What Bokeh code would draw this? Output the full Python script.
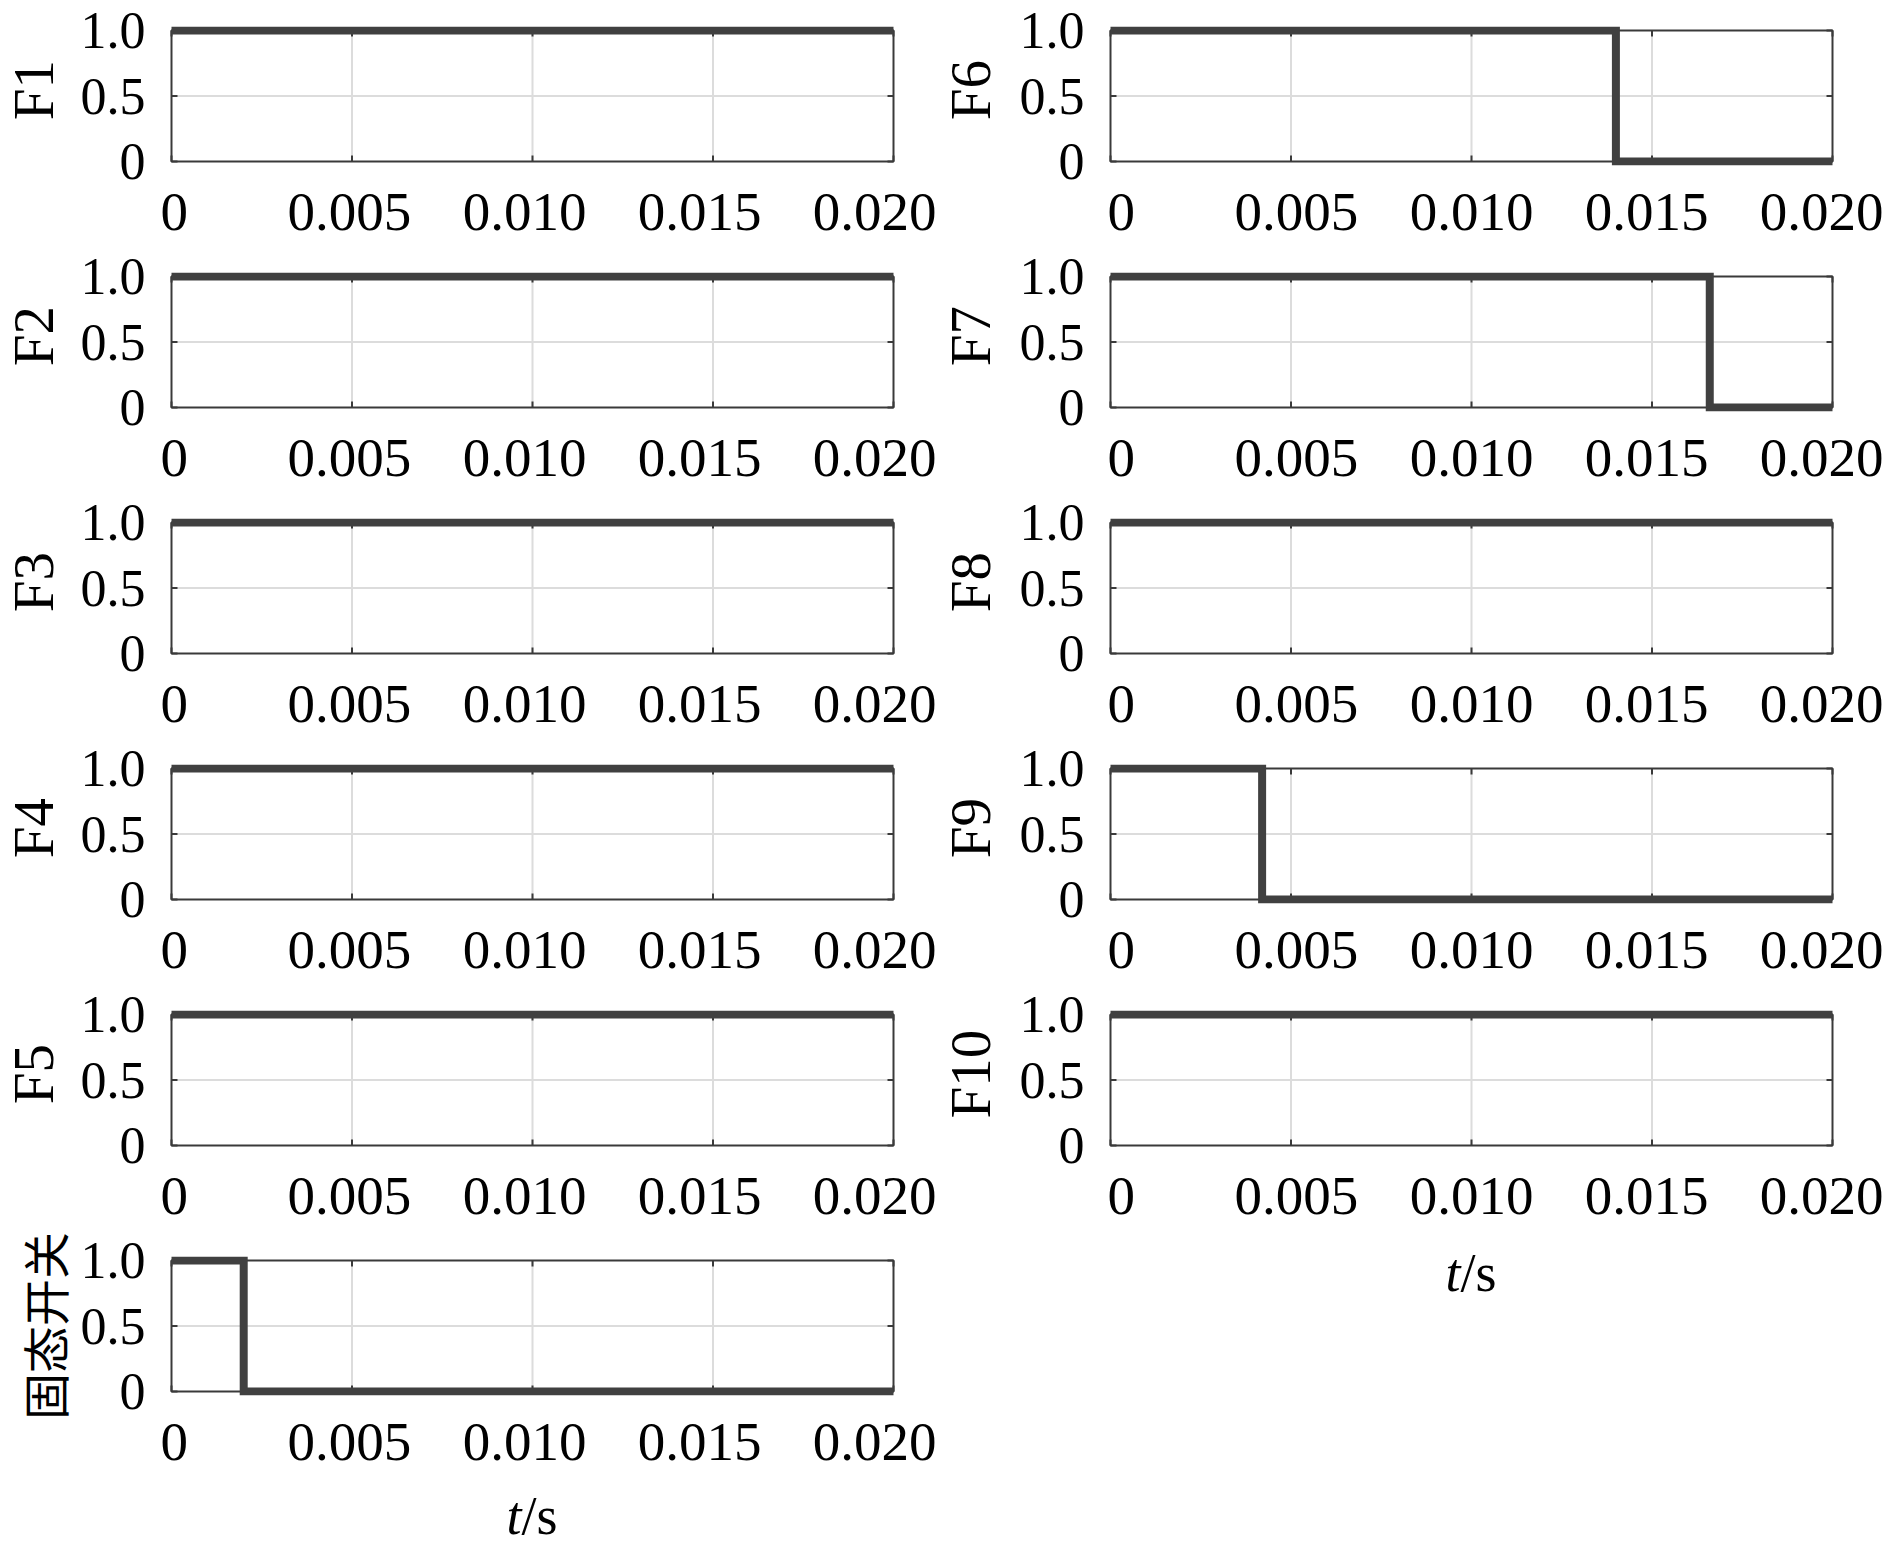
import math
from bokeh.plotting import figure
from bokeh.layouts import column, row
from bokeh.models import Range1d, LinearAxis, FixedTicker
from bokeh.core.properties import value
from bokeh.embed import file_html
from bokeh.resources import INLINE

# ---------------- data ----------------
T_END = 0.020
x_ticks = [0, 0.005, 0.010, 0.015, 0.020]
x_tick_labels = ["0", "0.005", "0.010", "0.015", "0.020"]
y_ticks = [0, 0.5, 1.0]
y_tick_labels = ["0", "0.5", "1.0"]

left_names = ["F1", "F2", "F3", "F4", "F5", "固态开关"]
right_names = ["F6", "F7", "F8", "F9", "F10"]

# switching state traces (time in s, state 1 = on, 0 = off)
F1_t = [0, 0.020];          F1_v = [1, 1]
F2_t = [0, 0.020];          F2_v = [1, 1]
F3_t = [0, 0.020];          F3_v = [1, 1]
F4_t = [0, 0.020];          F4_v = [1, 1]
F5_t = [0, 0.020];          F5_v = [1, 1]
SS_t = [0, 0.0020, 0.020];  SS_v = [1, 0, 0]
F6_t = [0, 0.0140, 0.020];  F6_v = [1, 0, 0]
F7_t = [0, 0.0166, 0.020];  F7_v = [1, 0, 0]
F8_t = [0, 0.020];          F8_v = [1, 1]
F9_t = [0, 0.0042, 0.020];  F9_v = [1, 0, 0]
F10_t = [0, 0.020];         F10_v = [1, 1]

left_data = [(F1_t, F1_v), (F2_t, F2_v), (F3_t, F3_v), (F4_t, F4_v), (F5_t, F5_v), (SS_t, SS_v)]
right_data = [(F6_t, F6_v), (F7_t, F7_v), (F8_t, F8_v), (F9_t, F9_v), (F10_t, F10_v)]
x_label_main = "t"
x_label_unit = "/s"

# ---------------- style ----------------
SERIF = "Liberation Serif"
CJK = "Noto Sans CJK SC"
XTICK_FS = "55px"
YTICK_FS = "52px"
LABEL_FS = "57px"
CJK_FS = "47px"
BOX_W = 722
BOX_H = 131
PAD = 4
TICK_PX = 6
LABEL_SQUEEZE = 0.97   # tick labels sit slightly closer together than the ticks
TITLE_DROP_PX = 17     # correction of the rotated titles' vertical placement
LINE_COLOR = "#404040"
BOX_COLOR = "#3a3a3a"
GRID_COLOR = "#dcdcdc"
ROW_H = 246
BT = 26
FRAME_H = BOX_H + 2 * PAD
BB = ROW_H - BT - FRAME_H
TITLE_W_L = 74
TITLE_W_R = 70

y_over = {t: s for t, s in zip(y_ticks, y_tick_labels)}
DX = T_END * PAD / BOX_W
DY = PAD / BOX_H
X_RANGE = (x_ticks[0] - DX, x_ticks[-1] + DX)


def bare_figure(width, height, x_range, y_range, bl=0, br=0, bt=0, bb=0):
    p = figure(width=width, height=height, x_range=x_range, y_range=y_range,
               output_backend="svg", toolbar_location=None,
               x_axis_location=None, y_axis_location=None,
               min_border_left=bl, min_border_right=br,
               min_border_top=bt, min_border_bottom=bb,
               outline_line_color=None,
               background_fill_color="white", border_fill_color="white")
    p.grid.visible = False
    return p


def make_panel(t, v, width, bl, br, label_shift_px, ylabel=None):
    x0, x1 = x_ticks[0], x_ticks[-1]
    y0, y1 = y_ticks[0], y_ticks[-1]
    p = bare_figure(width, ROW_H, Range1d(*X_RANGE), Range1d(y0 - DY, y1 + DY), bl, br, BT, BB)

    inner_x = x_ticks[1:-1]
    p.segment(x0=inner_x, y0=[y0] * len(inner_x), x1=inner_x, y1=[y1] * len(inner_x),
              line_color=GRID_COLOR, line_width=2)
    inner_y = y_ticks[1:-1]
    p.segment(x0=[x0] * len(inner_y), y0=inner_y, x1=[x1] * len(inner_y), y1=inner_y,
              line_color=GRID_COLOR, line_width=2)
    tdy = TICK_PX / BOX_H
    tdx = T_END * TICK_PX / BOX_W
    n = len(x_ticks)
    p.segment(x0=x_ticks, y0=[y0] * n, x1=x_ticks, y1=[y0 + tdy] * n, line_color=BOX_COLOR, line_width=2)
    p.segment(x0=x_ticks, y0=[y1] * n, x1=x_ticks, y1=[y1 - tdy] * n, line_color=BOX_COLOR, line_width=2)
    m = len(y_ticks)
    p.segment(x0=[x0] * m, y0=y_ticks, x1=[x0 + tdx] * m, y1=y_ticks, line_color=BOX_COLOR, line_width=2)
    p.segment(x0=[x1] * m, y0=y_ticks, x1=[x1 - tdx] * m, y1=y_ticks, line_color=BOX_COLOR, line_width=2)
    p.quad(left=[x0], right=[x1], bottom=[y0], top=[y1],
           fill_color=None, line_color=BOX_COLOR, line_width=2)
    p.step(x=t, y=v, mode="after", line_width=8, line_color=LINE_COLOR, line_join="miter")

    mid = (x0 + x1) / 2
    shift = label_shift_px * T_END / BOX_W
    lab_pos = [mid + LABEL_SQUEEZE * (tk - mid) + shift for tk in x_ticks]
    xa = LinearAxis(ticker=FixedTicker(ticks=lab_pos),
                    major_label_overrides={pos: s for pos, s in zip(lab_pos, x_tick_labels)})
    ya = LinearAxis(ticker=FixedTicker(ticks=y_ticks), major_label_overrides=y_over)
    for ax in (xa, ya):
        ax.axis_line_color = None
        ax.major_tick_line_color = None
        ax.minor_tick_line_color = None
        ax.major_tick_in = 0
        ax.major_tick_out = 0
        ax.major_label_text_font = SERIF
        ax.major_label_text_color = "black"
    xa.major_label_text_font_size = XTICK_FS
    ya.major_label_text_font_size = YTICK_FS
    xa.major_label_standoff = 28
    ya.major_label_standoff = 22
    if ylabel is not None:
        ya.axis_label = ylabel
        ya.axis_label_text_font = CJK
        ya.axis_label_text_font_size = CJK_FS
        ya.axis_label_text_font_style = "normal"
        ya.axis_label_text_color = "black"
        ya.axis_label_standoff = 0
    p.add_layout(xa, "below")
    p.add_layout(ya, "left")
    return p


def make_title(name, width, center_x_px):
    # strip whose frame lines up with the neighbouring panel's frame
    p = bare_figure(width, ROW_H, Range1d(0, width),
                    Range1d(-(PAD + BB) / BOX_H, 1 + (PAD + BT) / BOX_H))
    p.text(x=[center_x_px], y=[0.5 - TITLE_DROP_PX / BOX_H], text=[name], angle=math.pi / 2,
           text_align="center", text_baseline="middle",
           text_font=value(SERIF), text_font_size=LABEL_FS, text_color="black")
    return p


def make_xlabel(width, height, bl, br, center_frac):
    p = bare_figure(width, height, Range1d(*X_RANGE), Range1d(0, 1), bl, br, 0, 0)
    mid = (x_ticks[0] + x_ticks[-1]) / 2
    p.text(x=[mid], y=[center_frac], text=[x_label_main], x_offset=-11,
           text_align="right", text_baseline="middle",
           text_font=value(SERIF), text_font_style="italic", text_font_size="54px",
           text_color="black")
    p.text(x=[mid], y=[center_frac], text=[x_label_unit], x_offset=-11,
           text_align="left", text_baseline="middle",
           text_font=value(SERIF), text_font_size="54px", text_color="black")
    return p


# left column: title strip 74 px + panel 863 px (box 171..893); last row uses the axis title
left_rows = []
for name, (t, v) in zip(left_names, left_data):
    if any(ord(c) > 127 for c in name):
        left_rows.append(make_panel(t, v, 937, 167, 40, -8, ylabel=name))
    else:
        left_rows.append(row(make_title(name, TITLE_W_L, 33), make_panel(t, v, 863, 93, 40, -8)))
left_rows.append(make_xlabel(937, 74, 167, 40, 0.46))

# right column: title strip 70 px (937..1007), panel 883 px (box 1110..1832)
right_rows = []
for name, (t, v) in zip(right_names, right_data):
    right_rows.append(row(make_title(name, TITLE_W_R, 33), make_panel(t, v, 883, 99, 54, 0)))
right_rows.append(make_xlabel(953, 80, 169, 54, 0.475))

layout = row(column(*left_rows), column(*right_rows))

open("out.html", "w").write(file_html(layout, INLINE))
